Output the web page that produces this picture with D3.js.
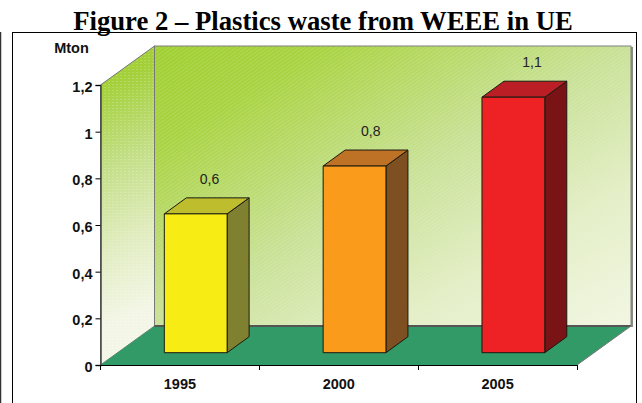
<!DOCTYPE html>
<html><head><meta charset="utf-8">
<script src="https://cdn.jsdelivr.net/npm/d3@7"></script>
<style>html,body{margin:0;padding:0;background:#fff;overflow:hidden}svg{display:block}
text{font-family:"Liberation Sans",Arial,sans-serif}</style></head>
<body><svg id="c" width="642" height="403"></svg>
<script>
const titleText = "Figure 2 – Plastics waste from WEEE in UE";
const unitLabel = "Mton";
const categories = ["1995","2000","2005"];
const values = [0.595,0.8,1.095];
const valueLabels = ["0,6","0,8","1,1"];
const yTicks = [0,0.2,0.4,0.6,0.8,1,1.2];
const yTickLabels = ["0","0,2","0,4","0,6","0,8","1","1,2"];
const frontColors = ["#f7ec13","#fb9b1c","#ee2224"];
const topColors = ["#bdbd2e","#bd7225","#bb1e25"];
const sideColors = ["#7f8030","#7e4f20","#7a1315"];

const svg = d3.select("#c");
const W = {x0:100.5,x1:577,y0:365,y1:85,dx:54,dy:-39};
const x = d3.scaleBand().domain(categories).range([W.x0,W.x1]);
const y = d3.scaleLinear().domain([0,1.2]).range([W.y0,W.y1]);
const labelX = d3.scalePoint().domain(categories).range([209.5,532]);
const pts = a => a.map(p=>p.join(",")).join(" ");

const defs = svg.append("defs");
const back = defs.append("linearGradient").attr("id","back").attr("gradientUnits","userSpaceOnUse")
  .attr("x1",154).attr("y1",46).attr("x2",398).attr("y2",462);
[[0,"#9fcf30"],[.18,"#a9d341"],[.5,"#c9e197"],[.75,"#e3eec5"],[1,"#f2f6e2"]].forEach(s=>back.append("stop").attr("offset",s[0]).attr("stop-color",s[1]));
const side = defs.append("linearGradient").attr("id","side").attr("gradientUnits","userSpaceOnUse")
  .attr("x1",100).attr("y1",85).attr("x2",190).attr("y2",290);
[[0,"#a3d038"],[.35,"#c4df88"],[.7,"#e2edc2"],[1,"#f3f6e6"]].forEach(s=>side.append("stop").attr("offset",s[0]).attr("stop-color",s[1]));
const hatch = defs.append("pattern").attr("id","hatch").attr("width",3).attr("height",3)
  .attr("patternUnits","userSpaceOnUse").attr("patternTransform","rotate(-35)");
hatch.append("rect").attr("width",3).attr("height",1).attr("fill","#fff").attr("opacity",.13);
const dots = defs.append("pattern").attr("id","dots").attr("width",4).attr("height",3).attr("patternUnits","userSpaceOnUse");
dots.append("rect").attr("width",2).attr("height",1).attr("fill","#fff").attr("opacity",.18);

// outer frames
svg.append("line").attr("x1",0.5).attr("x2",0.5).attr("y1",32).attr("y2",403).attr("stroke","#333").attr("stroke-width",1.5);
svg.append("rect").attr("x",12.5).attr("y",32.5).attr("width",624).attr("height",400)
  .attr("fill","#fff").attr("stroke","#000").attr("stroke-width",1);

// back wall
const bx0=W.x0+W.dx, bx1=W.x1+W.dx, by0=W.y0+W.dy, by1=W.y1+W.dy;
svg.append("rect").attr("x",bx0+2).attr("y",by1+1).attr("width",bx1-bx0).attr("height",by0-by1).attr("fill","#8a8a85");
[ "url(#back)","url(#hatch)" ].forEach(f=>svg.append("rect").attr("x",bx0).attr("y",by1).attr("width",bx1-bx0).attr("height",by0-by1).attr("fill",f));
svg.append("rect").attr("x",bx0).attr("y",by1).attr("width",bx1-bx0).attr("height",by0-by1).attr("fill","none").attr("stroke","#808080").attr("stroke-width",1);
// side wall
const sidePts = pts([[W.x0,W.y1],[bx0,by1],[bx0,by0],[W.x0,W.y0]]);
["url(#side)","url(#dots)"].forEach(f=>svg.append("polygon").attr("points",sidePts).attr("fill",f));
svg.append("polygon").attr("points",sidePts).attr("fill","none").attr("stroke","#777").attr("stroke-width",1);
// floor
svg.append("polygon").attr("points",pts([[W.x0,W.y0],[W.x1,W.y0],[bx1,by0],[bx0,by0]])).attr("fill","#319a66");
svg.append("line").attr("x1",bx0).attr("x2",bx1).attr("y1",by0).attr("y2",by0).attr("stroke","#555").attr("stroke-width",2);
svg.append("line").attr("x1",W.x1).attr("y1",W.y0).attr("x2",bx1).attr("y2",by0).attr("stroke","#777").attr("stroke-width",1);

// bars
const bw=62.8, ddx=22, ddy=-16, base=y(0)-12.3;
const h = v => y(0)-y(v);
const g = svg.append("g").selectAll("g").data(categories).join("g");
const fx = c => x(c)+x.bandwidth()/2+15.8-bw/2;
g.each(function(c,i){
  const s=d3.select(this), l=fx(c), r=l+bw, t=base-h(values[i]);
  const st={stroke:"#1a1a10","stroke-width":1,"stroke-linejoin":"round"};
  const poly=(p,f)=>{const e=s.append("polygon").attr("points",pts(p)).attr("fill",f);Object.entries(st).forEach(([k,v])=>e.attr(k,v));};
  poly([[r,t],[r+ddx,t+ddy],[r+ddx,base+ddy],[r,base]],sideColors[i]);
  poly([[l,t],[l+ddx,t+ddy],[r+ddx,t+ddy],[r,t]],topColors[i]);
  poly([[l,t],[r,t],[r,base],[l,base]],frontColors[i]);
  s.append("text").attr("x",labelX(c)).attr("y",t+ddy-14).attr("text-anchor","middle")
    .style("font-size","14px").attr("fill","#222").text(valueLabels[i]);
});

// axes
const ay = d3.axisLeft(y).tickValues(yTicks).tickFormat((d,i)=>yTickLabels[i]).tickSize(5).tickPadding(3);
const gy = svg.append("g").attr("transform",`translate(${W.x0},0)`).call(ay);
gy.select(".domain").attr("stroke","#444").attr("stroke-width",1.5);
gy.selectAll("line").attr("stroke","#000");
gy.selectAll("text").style("font-size","14.5px").style("font-weight","bold").attr("fill","#111").attr("dy","6.5px");

const ax = d3.axisBottom(x).tickSize(0);
const gx = svg.append("g").attr("transform",`translate(0,${W.y0})`).call(ax);
gx.select(".domain").remove();
gx.selectAll("text").style("font-size","14.5px").style("font-weight","bold").attr("fill","#111").attr("y",24).attr("dy",0);
svg.append("line").attr("x1",W.x0-0.5).attr("x2",W.x1).attr("y1",W.y0+.5).attr("y2",W.y0+.5).attr("stroke","#000");
const edges = x.domain().map(c=>x(c)).concat([W.x1]);
svg.append("g").selectAll("line").data(edges).join("line").attr("x1",d=>Math.floor(d)+.5).attr("x2",d=>Math.floor(d)+.5)
  .attr("y1",W.y0).attr("y2",W.y0+5).attr("stroke","#000");

svg.append("text").attr("x",71.5).attr("y",53).attr("text-anchor","middle")
  .style("font-size","14.5px").style("font-weight","bold").attr("fill","#111").text(unitLabel);

// title
svg.append("text").attr("x",323).attr("y",30).attr("text-anchor","middle")
  .style("font-family","'Liberation Serif',serif").style("font-weight","bold").style("font-size","26.7px").attr("fill","#000").text(titleText);
</script></body></html>
